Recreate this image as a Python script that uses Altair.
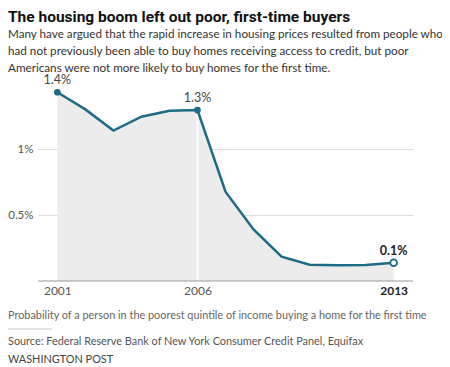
import altair as alt
import pandas as pd

years = [2001, 2002, 2003, 2004, 2005, 2006, 2007, 2008, 2009, 2010, 2011, 2012, 2013]
values = [1.43, 1.30, 1.14, 1.245, 1.29, 1.295, 0.677, 0.39, 0.184, 0.123, 0.12, 0.122, 0.139]
label_years = [2001, 2006, 2013]
label_texts = ["1.4%", "1.3%", "0.1%"]
x_ticks = [2001, 2006, 2013]
y_ticks = [0.5, 1]

title_text = "The housing boom left out poor, first-time buyers"
subtitle_lines = [
    "Many have argued that the rapid increase in housing prices resulted from people who",
    "had not previously been able to buy homes receiving access to credit, but poor",
    "Americans were not more likely to buy homes for the first time.",
]
footer_lines = [
    "Probability of a person in the poorest quintile of income buying a home for the first time",
    "Source: Federal Reserve Bank of New York Consumer Credit Panel, Equifax",
    "WASHINGTON POST",
]

TEAL = "#1d6b87"
FONT = "Lato"

df = pd.DataFrame({"year": years, "value": values})
lab = pd.DataFrame({"year": label_years, "text": label_texts})
lab["value"] = [values[years.index(y)] for y in label_years]

xs = alt.Scale(domain=[2000.31, 2013.69], nice=False, zero=False)
ys = alt.Scale(domain=[0, 1.5], nice=False)

x_enc = alt.X("year:Q", scale=xs, title=None,
              axis=alt.Axis(values=x_ticks, format="d", grid=False, domain=False, ticks=False,
                            labelPadding=4, labelFontSize=12, labelFont=FONT,
                            labelColor=alt.condition("datum.value == 2013", alt.value("#222222"), alt.value("#555555")),
                            labelFontWeight=alt.condition("datum.value == 2013", alt.value("bold"), alt.value("normal"))))
y_enc = alt.Y("value:Q", scale=ys, title=None,
              axis=alt.Axis(values=y_ticks, labelExpr="datum.value + '%'", grid=True, gridColor="#dddddd",
                            domain=False, ticks=False, labelPadding=5, labelFontSize=11.5, labelFont=FONT,
                            labelColor="#555555"))

base = alt.Chart(df)

area = base.mark_area(color="#ececec", opacity=1).encode(x=x_enc, y=y_enc)
vrule = alt.Chart(df[df.year == 2006]).mark_rule(color="white", strokeWidth=2).encode(
    x=alt.X("year:Q", scale=xs), y=alt.Y("zero:Q", scale=ys), y2="value:Q"
).transform_calculate(zero="0")
baseline = alt.Chart(pd.DataFrame({"v": [0]})).mark_rule(color="#999999", strokeWidth=1).encode(
    y=alt.Y("v:Q", scale=ys))
line = base.mark_line(color=TEAL, strokeWidth=2.5).encode(x=alt.X("year:Q", scale=xs), y=alt.Y("value:Q", scale=ys))
pts_filled = alt.Chart(lab[lab.year != 2013]).mark_point(filled=True, color=TEAL, size=45, opacity=1).encode(
    x=alt.X("year:Q", scale=xs), y=alt.Y("value:Q", scale=ys))
pts_open = alt.Chart(lab[lab.year == 2013]).mark_point(filled=True, fill="white", stroke=TEAL, strokeWidth=1.8,
                                                       size=45, opacity=1).encode(
    x=alt.X("year:Q", scale=xs), y=alt.Y("value:Q", scale=ys))
txt_norm = alt.Chart(lab[lab.year != 2013]).mark_text(dy=-12, fontSize=12.5, font=FONT, color="#444444").encode(
    x=alt.X("year:Q", scale=xs), y=alt.Y("value:Q", scale=ys), text="text:N")
txt_bold = alt.Chart(lab[lab.year == 2013]).mark_text(dy=-12, fontSize=12.5, font=FONT, fontWeight="bold",
                                                      color="#222222").encode(
    x=alt.X("year:Q", scale=xs), y=alt.Y("value:Q", scale=ys), text="text:N")

foot_df = pd.DataFrame({"text": footer_lines, "py": [233, 259, 277],
                        "color": ["#666666", "#555555", "#444444"]})
footer = alt.Chart(foot_df).mark_text(align="left", baseline="middle", fontSize=10.9, font=FONT).encode(
    x=alt.value(-30), y=alt.Y("py:Q", scale=None), text="text:N", color=alt.Color("color:N", scale=None))
foot_rule = alt.Chart(pd.DataFrame({"a": [0]})).mark_rule(color="#cccccc", strokeWidth=1).encode(
    x=alt.value(-30), x2=alt.value(14), y=alt.value(246))

chart = alt.layer(area, vrule, baseline, line, pts_filled, pts_open, txt_norm, txt_bold, footer, foot_rule).properties(
    width=375, height=198,
    padding={"left": 30, "top": 75, "right": 29, "bottom": 85},
    autosize=alt.AutoSizeParams(type="none"),
    title=alt.TitleParams(text=title_text, subtitle=subtitle_lines, anchor="start", frame="group", dx=-30,
                          font="Roboto", fontSize=15.5, fontWeight="bold", color="#111111",
                          subtitleFont=FONT, subtitleFontSize=11.7, subtitleColor="#333333",
                          subtitleLineHeight=17, subtitlePadding=3, offset=0),
).configure_view(stroke=None).configure_axis(labelFont=FONT)

chart.save("out.html", embed_options={"renderer": "svg", "actions": False})
